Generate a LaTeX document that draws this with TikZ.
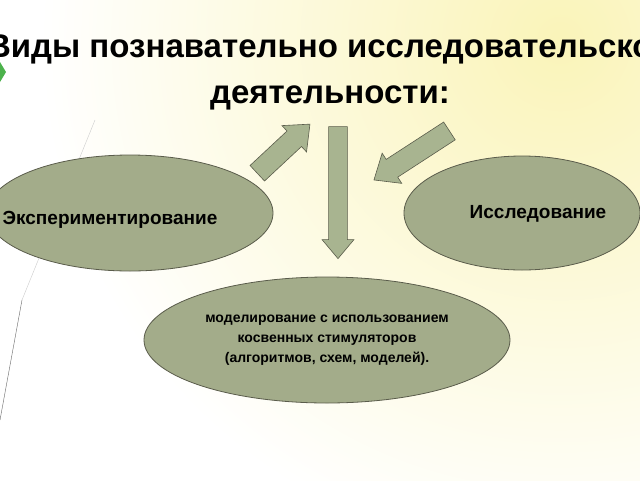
\documentclass[tikz,border=0pt]{standalone}
\usepackage{fontspec}
\setmainfont{Liberation Sans}
\usetikzlibrary{shapes.arrows, shapes.geometric}
\definecolor{olive}{RGB}{163,172,138}
\definecolor{arrowgreen}{RGB}{168,180,144}
\definecolor{edge}{RGB}{90,92,75}
\definecolor{cream}{RGB}{250,244,185}
\tikzset{
  kind/.style={ellipse, draw=edge, fill=olive, line width=0.8pt, inner sep=0pt, font=\bfseries},
  blockarrow/.style={single arrow, draw=edge, fill=arrowgreen, line width=0.6pt,
    minimum width=34pt, single arrow head extend=3pt, single arrow tip angle=80,
    inner sep=4pt, anchor=center}
}
\begin{document}
\begin{tikzpicture}[x=1pt, y=-1pt]
% Background
    \useasboundingbox (0,0) rectangle (640,480);
    \clip (0,0) rectangle (640,480);
    \fill[white] (0,0) rectangle (640,480);
    \shade[inner color=cream, outer color=white] (560,40) circle (520);
    \draw[gray!40, line width=0.4pt] (95,120) -- (22,300);
    \draw[black!60, line width=0.4pt] (22,300) -- (0,420);
    \fill[green!40!gray] (0,62) -- (6,72) -- (0,82) -- cycle;
% Title
    \node[font=\bfseries\fontsize{33}{46}\selectfont, align=center] (title) at (330,72)
      {Виды познавательно исследовательской\\деятельности:};
% Kinds
    \node[kind, minimum width=286pt, minimum height=116pt] (exper) at (130,213) {};
    \node[font=\bfseries\fontsize{19}{22}\selectfont] (experlabel) at (110,220) {Экспериментирование};
    \node[kind, minimum width=236pt, minimum height=114pt] (research) at (522,213) {};
    \node[font=\bfseries\fontsize{19}{22}\selectfont] (researchlabel) at (538,214) {Исследование};
    \node[kind, minimum width=366pt, minimum height=126pt, align=center,
      font=\bfseries\fontsize{14}{20}\selectfont] (model) at (327,340)
      {моделирование с использованием\\косвенных стимуляторов\\(алгоритмов, схем, моделей).};
% Arrows
    \node[blockarrow, minimum height=72pt, rotate=43, minimum width=36pt] (toexper) at (279,153) {};
    \node[blockarrow, minimum height=132pt, rotate=-90, minimum width=32pt] (tomodel) at (338,187) {};
    \node[blockarrow, minimum height=90pt, rotate=213, minimum width=36pt] (toresearch) at (417,152) {};
\end{tikzpicture}
\end{document}
